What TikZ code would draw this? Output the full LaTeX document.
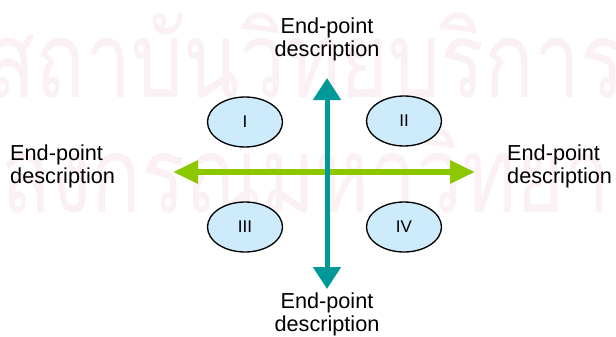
\documentclass[tikz,border=0pt]{standalone}
\usepackage{fontspec}
\usepackage{graphicx}
\setmainfont{Liberation Sans}
\newfontfamily\thaifont[Script=Thai]{Loma}
\usetikzlibrary{arrows.meta,shapes.geometric}

\definecolor{axisteal}{HTML}{009999}
\definecolor{axisgreen}{HTML}{8CC800}
\definecolor{quadblue}{HTML}{CDEBFA}
\definecolor{wmpink}{HTML}{FBF0F3}

\begin{document}
\begin{tikzpicture}[x=0.3mm,y=-0.3mm,font=\fontsize{18.5}{19.5}\selectfont,
    wmark/.style={text=wmpink,inner sep=0,anchor=base west,
      font=\thaifont\fontsize{90}{90}\selectfont},
    quad/.style={ellipse,draw=black,line width=0.4mm,fill=quadblue,
      minimum width=22.5mm,minimum height=15mm,inner sep=0,
      font=\fontsize{14.5}{15}\selectfont},
    endlabel/.style={inner sep=0,align=#1},
    tealarrow/.style={axisteal,line width=1.5mm,
      {Triangle[length=6.6mm,width=8.1mm]}-{Triangle[length=6.6mm,width=8.1mm]}},
    greenarrow/.style={axisgreen,line width=1.8mm,
      {Triangle[length=7.5mm,width=6.6mm]}-{Triangle[length=7.5mm,width=6.6mm]}}]

      \useasboundingbox (0,0) rectangle (616,337);
      \clip (0,0) rectangle (616,337);
      \fill [white] (0,0) rectangle (616,337);

      % watermark
      \node [wmark] (wmtop) at (-15,97) {\scalebox{0.78}[1]{สถาบันวิทยบริการ}};
      \node [wmark] (wmbot) at (-150,212) {\scalebox{0.78}[1]{จุฬาลงกรณ์มหาวิทยาลัย}};

      % quadrants
      \foreach\x/\y/\t/\n in {245/122/I/qone,404/121/II/qtwo,
                              245/227/III/qthree,404/227/IV/qfour}
        \node [quad] (\n) at (\x,\y) {\t};

      % end points of the axes
      \coordinate (ntip) at (327,78);
      \coordinate (stip) at (327,289);
      \coordinate (wtip) at (173,172);
      \coordinate (etip) at (475,172);

      \draw [greenarrow] (wtip) -- (etip);
      \draw [tealarrow] (stip) -- (ntip);

      \node [endlabel=center] (ntext) at (327,39) {End-point\\description};
      \node [endlabel=center] (stext) at (327,314) {End-point\\description};
      \node [endlabel=left,anchor=west] (wtext) at (10,166) {End-point\\description};
      \node [endlabel=left,anchor=west] (etext) at (507,166) {End-point\\description};

    \end{tikzpicture}
\end{document}
